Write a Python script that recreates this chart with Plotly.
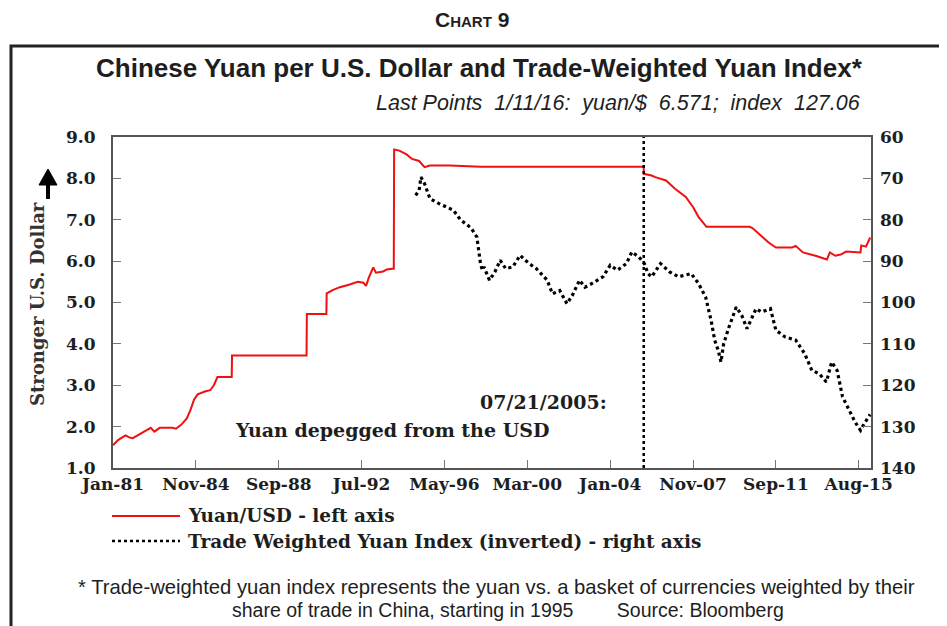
import plotly.graph_objects as go

# ---------------- data ----------------
yuan_dates = [
    "1981-01-01", "1981-04-01", "1981-08-01", "1981-10-01", "1981-12-01", "1982-04-01",
    "1982-08-01", "1982-10-01", "1982-12-01", "1983-03-01", "1983-10-01", "1983-12-01",
    "1984-03-01", "1984-06-01", "1984-08-01", "1984-10-01", "1984-12-01", "1985-04-01",
    "1985-07-01", "1985-09-01", "1985-11-01", "1986-06-30", "1986-07-05", "1989-12-15",
    "1989-12-20", "1990-11-15", "1990-11-20", "1991-03-01", "1991-07-01", "1991-12-01",
    "1992-05-01", "1992-08-01", "1992-09-15", "1992-11-01", "1993-01-15", "1993-03-01",
    "1993-07-01", "1993-09-01", "1993-12-28", "1994-01-03", "1994-04-01", "1994-08-01",
    "1994-11-01", "1995-03-01", "1995-04-15", "1995-06-01", "1995-09-01", "1996-08-01",
    "1998-01-01", "2005-07-20", "2005-07-22", "2005-12-01", "2006-02-01", "2006-08-01",
    "2007-01-01", "2007-07-01", "2007-11-01", "2008-02-01", "2008-06-15", "2010-06-15",
    "2010-08-01", "2010-12-01", "2011-05-01", "2011-09-01", "2012-06-01", "2012-08-01",
    "2012-12-01", "2013-07-01", "2014-01-10", "2014-03-01", "2014-06-01", "2014-09-01",
    "2014-12-01", "2015-07-31", "2015-08-14", "2015-11-01", "2016-01-11",
]
yuan_values = [
    1.55, 1.68, 1.79, 1.74, 1.72, 1.83,
    1.92, 1.97, 1.88, 1.97, 1.97, 1.95,
    2.05, 2.20, 2.40, 2.65, 2.78, 2.85,
    2.88, 3.00, 3.20, 3.20, 3.72, 3.72,
    4.72, 4.72, 5.22, 5.30, 5.37, 5.43,
    5.50, 5.48, 5.40, 5.60, 5.85, 5.72,
    5.75, 5.80, 5.82, 8.70, 8.67, 8.58,
    8.47, 8.42, 8.35, 8.27, 8.31, 8.31,
    8.28, 8.28, 8.11, 8.07, 8.03, 7.95,
    7.75, 7.55, 7.31, 7.07, 6.83, 6.83,
    6.80, 6.65, 6.45, 6.33, 6.33, 6.37,
    6.21, 6.13, 6.04, 6.21, 6.13, 6.16,
    6.23, 6.21, 6.38, 6.35, 6.57,
]

twi_dates = [
    "1995-01-01", "1995-03-01", "1995-04-01", "1995-06-01", "1995-09-01", "1996-02-01",
    "1996-10-01", "1997-02-01", "1997-05-01", "1997-08-01", "1997-11-01", "1997-12-01",
    "1998-01-01", "1998-02-01", "1998-03-01", "1998-06-01", "1998-09-01", "1998-12-01",
    "1999-03-01", "1999-07-01", "1999-11-01", "2000-04-01", "2000-08-01", "2001-02-01",
    "2001-05-01", "2001-09-01", "2002-01-01", "2002-04-01", "2002-08-01", "2002-11-01",
    "2003-03-01", "2003-09-01", "2004-01-01", "2004-05-01", "2004-10-01", "2005-01-01",
    "2005-05-01", "2005-08-01", "2005-10-01", "2005-12-01", "2006-05-01", "2006-10-01",
    "2007-03-01", "2007-10-01", "2008-02-01", "2008-06-01", "2008-09-01", "2008-11-01",
    "2009-01-01", "2009-02-15", "2009-04-01", "2009-07-01", "2009-11-01", "2010-02-01",
    "2010-05-01", "2010-10-01", "2011-01-01", "2011-06-01", "2011-09-01", "2012-02-01",
    "2012-08-01", "2013-01-01", "2013-05-01", "2013-09-01", "2014-01-01", "2014-04-01",
    "2014-07-01", "2014-10-01", "2015-02-01", "2015-05-01", "2015-08-01", "2015-10-01",
    "2016-01-11",
]
twi_values = [
    74.1, 72.9, 69.7, 71.3, 74.9, 76.1,
    77.7, 80.1, 81.0, 82.1, 84.2, 87.4,
    90.6, 92.2, 91.4, 94.6, 92.6, 89.8,
    91.8, 91.4, 88.6, 90.6, 91.8, 94.6,
    97.9, 97.1, 100.3, 98.3, 94.6, 96.3,
    95.4, 93.8, 91.0, 92.2, 90.6, 87.8,
    89.0, 90.6, 93.0, 93.8, 90.6, 92.6,
    93.8, 93.0, 95.4, 98.7, 104.3, 109.1,
    111.6, 114.4, 110.0, 105.9, 101.1, 103.1,
    106.3, 101.5, 102.3, 101.5, 106.7, 108.3,
    109.1, 112.4, 116.4, 117.2, 119.2, 114.4,
    116.4, 122.8, 126.5, 128.9, 130.9, 129.3,
    127.06,
]

tick_dates = ["1981-01-01", "1984-11-01", "1988-09-01", "1992-07-01", "1996-05-01",
              "2000-03-01", "2004-01-01", "2007-11-01", "2011-09-01", "2015-07-01"]
tick_labels = ["Jan-81", "Nov-84", "Sep-88", "Jul-92", "May-96",
               "Mar-00", "Jan-04", "Nov-07", "Sep-11", "Aug-15"]
depeg_date = "2005-07-21"

# ---------------- geometry helpers (reference pixel coords) ----------------
OFF = 8                      # page body margin offset
W, H = 947 - OFF, 626 - OFF
L, R, T, B = 113, 871, 137, 468   # plot area in reference pixels
def px(x):
    return (x - L) / (R - L)
def py(y):
    return 1 - (y - T) / (B - T)

SERIF = "DejaVu Serif"
NARROW = "Liberation Sans Narrow, Liberation Sans, Arial"
RED = "#f01010"
INK = "#1e1e1e"

fig = go.Figure()
fig.add_trace(go.Scatter(x=yuan_dates, y=yuan_values, mode="lines",
                         line=dict(color=RED, width=2), name="Yuan/USD - left axis",
                         yaxis="y"))
fig.add_trace(go.Scatter(x=twi_dates, y=twi_values, mode="lines",
                         line=dict(color="black", width=3.2, dash="dot"),
                         name="Trade Weighted Yuan Index (inverted) - right axis",
                         yaxis="y2"))

tickfont = dict(family=SERIF, size=17, color=INK, weight="bold")
fig.update_layout(
    width=W, height=H,
    margin=dict(l=L - OFF, r=947 - R, t=T - OFF, b=626 - B),
    paper_bgcolor="white", plot_bgcolor="white",
    showlegend=False,
    xaxis=dict(type="date", range=["1981-01-01", "2016-01-25"],
               tickvals=tick_dates, ticktext=tick_labels,
               ticks="inside", ticklen=8, tickcolor="#777", tickwidth=1,
               showline=True, linecolor="#555", linewidth=2, mirror=True,
               showgrid=False, zeroline=False, tickfont=tickfont,
               ticklabelstandoff=0),
    yaxis=dict(range=[1, 9], dtick=1, tickformat=".1f",
               ticks="inside", ticklen=8, tickcolor="#777",
               showline=True, linecolor="#555", linewidth=2, mirror=True,
               showgrid=False, zeroline=False, tickfont=tickfont,
               ticklabelstandoff=12),
    yaxis2=dict(range=[140, 60], dtick=10, overlaying="y", side="right",
                ticks="inside", ticklen=8, tickcolor="#777",
                showline=False, showgrid=False, zeroline=False, tickfont=tickfont,
                ticklabelstandoff=8),
)

# depeg vertical line
fig.add_shape(type="line", xref="x", yref="paper", x0=depeg_date, x1=depeg_date,
              y0=0, y1=1, line=dict(color="black", width=2.5, dash="dot"))

# outer frame
fig.add_shape(type="rect", xref="paper", yref="paper",
              x0=px(11), x1=px(1000), y0=py(46), y1=py(700),
              line=dict(color="#222", width=3), layer="below")

# arrow next to axis title
fig.add_shape(type="path", xref="paper", yref="paper",
              path=f"M {px(39)} {py(185)} L {px(57)} {py(185)} L {px(48)} {py(169)} Z",
              fillcolor="black", line=dict(color="black", width=1))
fig.add_shape(type="line", xref="paper", yref="paper",
              x0=px(48), x1=px(48), y0=py(184), y1=py(199),
              line=dict(color="black", width=4))

# legend marks
fig.add_shape(type="line", xref="paper", yref="paper", x0=px(112), x1=px(180),
              y0=py(516), y1=py(516), line=dict(color=RED, width=2))
fig.add_shape(type="line", xref="paper", yref="paper", x0=px(112), x1=px(180),
              y0=py(541), y1=py(541), line=dict(color="black", width=2.5, dash="dot"))

def ann(text, x, y, font, xanchor="center", yanchor="middle", **kw):
    fig.add_annotation(text=text, xref="paper", yref="paper", x=px(x), y=py(y),
                       xanchor=xanchor, yanchor=yanchor, showarrow=False, font=font, **kw)

ann("<b>C<span style='font-size:15px'>HART</span> 9</b>", 472, 20,
    dict(family=NARROW, size=21, color=INK))
ann("<b>Chinese Yuan per U.S. Dollar and Trade-Weighted Yuan Index*</b>", 479, 68,
    dict(family=NARROW, size=26, color=INK))
ann("<i>Last Points  1/11/16:  yuan/$  6.571;  index  127.06</i>", 862, 103,
    dict(family=NARROW, size=21.5, color=INK), xanchor="right")
ann("Stronger U.S. Dollar", 37, 304, dict(family=SERIF, size=18, color="#333", weight="bold"),
    textangle=-90)
ann("07/21/2005:", 543, 402, dict(family=SERIF, size=19, color=INK, weight="bold"))
ann("Yuan depegged from the USD", 392, 430, dict(family=SERIF, size=19, color=INK, weight="bold"))
ann("Yuan/USD - left axis", 186, 516, dict(family=SERIF, size=18.5, color=INK, weight="bold"),
    xanchor="left")
ann("Trade Weighted Yuan Index (inverted) - right axis", 186, 541,
    dict(family=SERIF, size=18.5, color=INK, weight="bold"), xanchor="left")
ann("* Trade-weighted yuan index represents the yuan vs. a basket of currencies weighted by their",
    496, 587, dict(family=NARROW, size=20.3, color=INK))
ann("share of trade in China, starting in 1995\u00a0\u00a0\u00a0\u00a0\u00a0\u00a0\u00a0\u00a0Source: Bloomberg",
    508, 610, dict(family=NARROW, size=19.5, color=INK))

fig.write_html("out.html")
